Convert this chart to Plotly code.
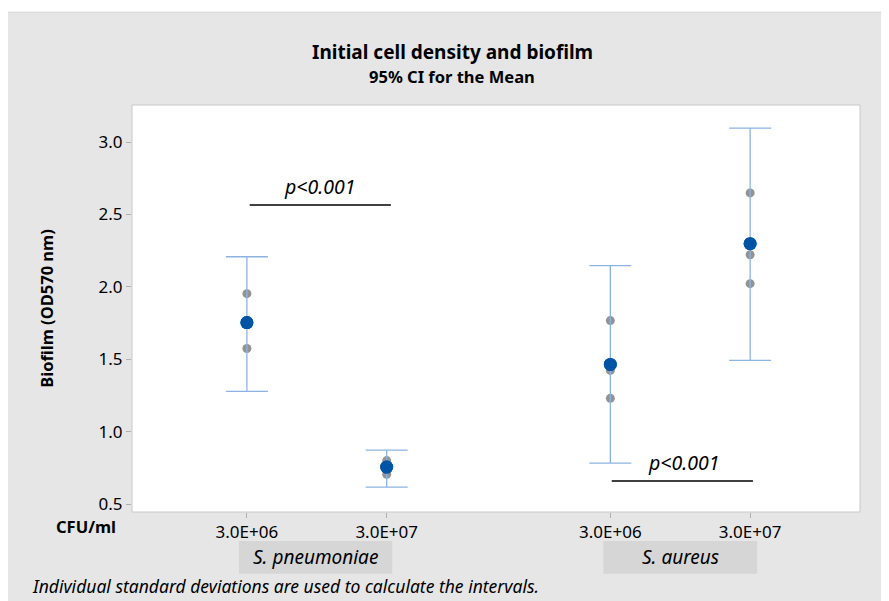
import plotly.graph_objects as go

# ---- data ----
species = ["S. pneumoniae", "S. aureus"]
cfu_labels = ["3.0E+06", "3.0E+07", "3.0E+06", "3.0E+07"]
means = [1.753, 0.755, 1.464, 2.298]
ci_lower = [1.278, 0.617, 0.782, 1.492]
ci_upper = [2.208, 0.872, 2.146, 3.096]
indiv = [
    [1.953, 1.574, 1.740],
    [0.800, 0.705, 0.760],
    [1.767, 1.423, 1.230],
    [2.649, 2.222, 2.022],
]
y_ticks = [0.5, 1.0, 1.5, 2.0, 2.5, 3.0]

# ---- layout positions ----
xpos = [1.0, 2.0, 3.6, 4.6]

FONT = "Noto Sans"
fig = go.Figure()

# individual points
px, py = [], []
for x, vals in zip(xpos, indiv):
    for v in vals:
        px.append(x)
        py.append(v)
fig.add_trace(go.Scatter(
    x=px, y=py, mode="markers",
    marker=dict(color="rgba(120,120,120,0.8)", size=9),
    hoverinfo="skip", showlegend=False))

# means with CI
fig.add_trace(go.Scatter(
    x=xpos, y=means, mode="markers",
    marker=dict(color="#0054a6", size=13),
    error_y=dict(type="data", symmetric=False,
                 array=[u - m for u, m in zip(ci_upper, means)],
                 arrayminus=[m - l for m, l in zip(means, ci_lower)],
                 color="#8db3e2", thickness=1.3, width=21),
    showlegend=False))
fig.add_trace(go.Scatter(
    x=xpos, y=means, mode="markers",
    marker=dict(color="#0054a6", size=13),
    hoverinfo="skip", showlegend=False))

# background panel (grey) and white plot area
fig.add_shape(type="rect", xref="paper", yref="paper",
              x0=-0.174, x1=1.06, y0=-0.3, y1=1.228,
              fillcolor="#e6e6e6", line=dict(color="#d4d4d4", width=1),
              layer="below")
fig.add_shape(type="rect", xref="paper", yref="paper",
              x0=0, x1=1, y0=0, y1=1,
              fillcolor="white", line=dict(color="#c8c8c8", width=1),
              layer="below")

# group label boxes
fig.add_shape(type="rect", xref="x", yref="paper", x0=0.943, x1=2.04, y0=-0.152, y1=-0.071,
              fillcolor="#d6d6d6", line=dict(width=0), layer="below")
fig.add_shape(type="rect", xref="x", yref="paper", x0=3.55, x1=4.65, y0=-0.152, y1=-0.071,
              fillcolor="#d6d6d6", line=dict(width=0), layer="below")
fig.add_annotation(x=1.49, xref="x", y=-0.1115, yref="paper", text="<i>" + species[0] + "</i>",
                   showarrow=False, yanchor="middle",
                   font=dict(family=FONT, size=19, color="black"))
fig.add_annotation(x=4.1, xref="x", y=-0.1115, yref="paper", text="<i>" + species[1] + "</i>",
                   showarrow=False, yanchor="middle",
                   font=dict(family=FONT, size=19, color="black"))

# significance lines
fig.add_shape(type="line", xref="x", yref="y", x0=1.02, x1=2.03, y0=2.565, y1=2.565,
              line=dict(color="black", width=1.5))
fig.add_shape(type="line", xref="x", yref="y", x0=3.61, x1=4.62, y0=0.659, y1=0.659,
              line=dict(color="black", width=1.5))
fig.add_annotation(x=1.52, y=2.565, yshift=3, text="<i>p<0.001</i>", showarrow=False,
                   font=dict(family=FONT, size=19.5, color="black"), yanchor="bottom")
fig.add_annotation(x=4.12, y=0.659, yshift=3, text="<i>p<0.001</i>", showarrow=False,
                   font=dict(family=FONT, size=19.5, color="black"), yanchor="bottom")

fig.add_annotation(x=-0.019, xref="paper", y=-0.036, yref="paper", text="<b>CFU/ml</b>",
                   showarrow=False, xanchor="right", yanchor="middle",
                   font=dict(family=FONT, size=16.5, color="black"))
fig.add_annotation(x=-0.14, xref="paper", y=-0.182, yref="paper",
                   text="<i>Individual standard deviations are used to calculate the intervals.</i>",
                   showarrow=False, xanchor="left", yanchor="middle",
                   font=dict(family=FONT, size=17.5, color="black"))

# title
fig.add_annotation(x=0.44, xref="paper", y=1.131, yref="paper",
                   text="<b>Initial cell density and biofilm</b>", showarrow=False,
                   yanchor="middle",
                   font=dict(family=FONT, size=19, color="black"))
fig.add_annotation(x=0.44, xref="paper", y=1.069, yref="paper",
                   text="<b>95% CI for the Mean</b>", showarrow=False,
                   yanchor="middle",
                   font=dict(family=FONT, size=16.5, color="black"))

fig.update_layout(
    width=889, height=601,
    margin=dict(l=124, r=37, t=97, b=97),
    paper_bgcolor="white", plot_bgcolor="white",
    font=dict(family=FONT, color="black"),
    xaxis=dict(range=[0.178, 5.386], tickvals=xpos, ticktext=cfu_labels,
               ticks="outside", ticklen=5, tickcolor="#b0b0b0",
               showgrid=False, zeroline=False, showline=False,
               tickfont=dict(size=17)),
    yaxis=dict(range=[0.445, 3.256], tickvals=y_ticks,
               ticktext=[f"{v:.1f}" for v in y_ticks],
               ticks="outside", ticklen=5, tickcolor="#b0b0b0",
               showgrid=False, zeroline=False, showline=False,
               tickfont=dict(size=17),
               title=dict(text="<b>Biofilm (OD570 nm)</b>", font=dict(size=16.5), standoff=40)),
)

fig.write_html("out.html")
